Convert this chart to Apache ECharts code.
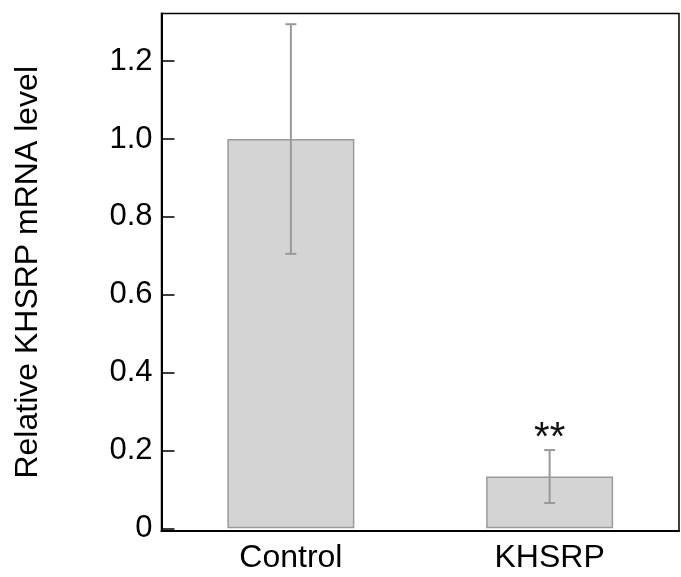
<!DOCTYPE html>
<html>
<head>
<meta charset="utf-8">
<script src="https://cdn.jsdelivr.net/npm/echarts@6/dist/echarts.min.js"></script>
<style>
html,body{margin:0;padding:0;background:#fff;}
#chart{width:681px;height:577px;}
</style>
</head>
<body>
<div id="chart"></div>
<script>
const categories = ['Control', 'KHSRP'];
const means = [1.0, 0.133];
const errors = [0.295, 0.068];
const significance = ['', '**'];
const yTicks = [0, 0.2, 0.4, 0.6, 0.8, 1.0, 1.2];
const yAxisTitle = 'Relative KHSRP mRNA level';

const FONT = '"Liberation Sans", Arial, Helvetica, sans-serif';
const chart = echarts.init(document.getElementById('chart'), null, {renderer: 'canvas'});

const errData = categories.map((c, i) => [i, means[i] - errors[i], means[i] + errors[i], significance[i]]);

chart.setOption({
  animation: false,
  backgroundColor: '#fff',
  grid: {
    left: 161.5, right: 2, top: 13.5, bottom: 46,
    show: true, borderColor: '#000', borderWidth: 1.5, containLabel: false
  },
  xAxis: {
    type: 'category',
    data: categories,
    axisLine: {show: true, onZero: false, lineStyle: {color: '#000', width: 2}},
    axisTick: {show: false},
    axisLabel: {fontSize: 32, color: '#000', fontFamily: FONT, margin: 11},
    splitLine: {show: false}
  },
  yAxis: {
    type: 'value',
    min: -0.007,
    max: 1.3225,
    name: yAxisTitle,
    nameLocation: 'middle',
    nameGap: 117,
    nameTextStyle: {fontSize: 32, color: '#000', fontFamily: FONT},
    axisLine: {show: true, lineStyle: {color: '#000', width: 2}},
    axisTick: {show: true, inside: true, length: 13, customValues: yTicks, lineStyle: {color: '#000', width: 1.5}},
    axisLabel: {
      fontSize: 31, color: '#000', fontFamily: FONT, margin: 9,
      customValues: yTicks,
      formatter: v => (Math.abs(v) < 1e-9 ? '0' : v.toFixed(1))
    },
    splitLine: {show: false}
  },
  series: [
    {
      type: 'bar',
      data: means,
      barWidth: 127,
      itemStyle: {color: '#d4d4d4', borderColor: '#9a9a9a', borderWidth: 1.5},
      silent: true
    },
    {
      type: 'custom',
      data: errData,
      silent: true,
      z: 10,
      renderItem: function (params, api) {
        const x = api.value(0);
        const lo = api.coord([x, api.value(1)]);
        const hi = api.coord([x, api.value(2)]);
        const cap = 5.5;
        const style = {stroke: '#999', lineWidth: 2};
        const children = [
          {type: 'line', shape: {x1: lo[0], y1: lo[1], x2: hi[0], y2: hi[1]}, style: style},
          {type: 'line', shape: {x1: lo[0] - cap, y1: lo[1], x2: lo[0] + cap, y2: lo[1]}, style: style},
          {type: 'line', shape: {x1: hi[0] - cap, y1: hi[1], x2: hi[0] + cap, y2: hi[1]}, style: style}
        ];
        const sig = api.value(3);
        if (sig) {
          children.push({
            type: 'text',
            style: {
              text: sig, x: hi[0], y: hi[1] + 9,
              align: 'center', verticalAlign: 'bottom',
              fontSize: 40, fontFamily: FONT, fill: '#111'
            }
          });
        }
        return {type: 'group', children: children};
      }
    }
  ]
});
</script>
</body>
</html>
